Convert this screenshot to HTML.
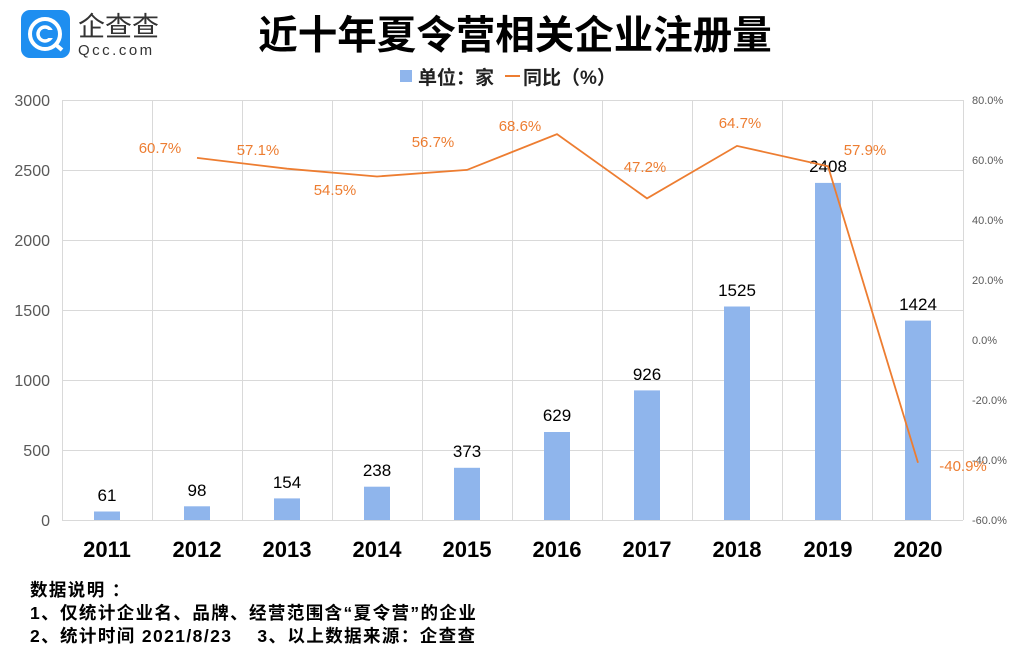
<!DOCTYPE html>
<html><head><meta charset="utf-8"><style>
body{margin:0;background:#fff}
svg text{font-family:"Liberation Sans","Noto Sans CJK SC",sans-serif}
</style></head><body>
<svg width="1021" height="655" viewBox="0 0 1021 655" xmlns="http://www.w3.org/2000/svg">
<rect width="1021" height="655" fill="#fff"/>
<rect x="21" y="10" width="49" height="48" rx="9" fill="#1E8EF0"/>
<circle cx="45" cy="34" r="15" fill="none" stroke="#fff" stroke-width="4"/>
<circle cx="45" cy="34" r="7" fill="none" stroke="#fff" stroke-width="3.5"/>
<rect x="47" y="30" width="8" height="8" fill="#1E8EF0"/>
<line x1="55" y1="44" x2="62" y2="50" stroke="#fff" stroke-width="4"/>
<text x="78" y="36" font-size="27" fill="#333">企查查</text>
<text x="78" y="55" font-size="15" fill="#333" letter-spacing="2.5">Qcc.com</text>
<text x="515" y="49" font-size="39.5" font-weight="bold" text-anchor="middle" fill="#000">近十年夏令营相关企业注册量</text>
<rect x="400" y="70" width="12" height="12" fill="#8FB5EC"/>
<text x="418" y="84" font-size="19" font-weight="bold" fill="#222">单位：家</text>
<line x1="505" y1="76" x2="520" y2="76" stroke="#ED7D31" stroke-width="2"/>
<text x="523" y="84" font-size="19" font-weight="bold" fill="#222">同比（%）</text>
<g stroke="#D9D9D9" stroke-width="1">
<line x1="62" y1="100.5" x2="963" y2="100.5"/>
<line x1="62" y1="170.5" x2="963" y2="170.5"/>
<line x1="62" y1="240.5" x2="963" y2="240.5"/>
<line x1="62" y1="310.5" x2="963" y2="310.5"/>
<line x1="62" y1="380.5" x2="963" y2="380.5"/>
<line x1="62" y1="450.5" x2="963" y2="450.5"/>
<line x1="62" y1="520.5" x2="963" y2="520.5"/>
<line x1="62.5" y1="100" x2="62.5" y2="520"/>
<line x1="152.5" y1="100" x2="152.5" y2="520"/>
<line x1="242.5" y1="100" x2="242.5" y2="520"/>
<line x1="332.5" y1="100" x2="332.5" y2="520"/>
<line x1="422.5" y1="100" x2="422.5" y2="520"/>
<line x1="512.5" y1="100" x2="512.5" y2="520"/>
<line x1="602.5" y1="100" x2="602.5" y2="520"/>
<line x1="692.5" y1="100" x2="692.5" y2="520"/>
<line x1="782.5" y1="100" x2="782.5" y2="520"/>
<line x1="872.5" y1="100" x2="872.5" y2="520"/>
<line x1="963.5" y1="100" x2="963.5" y2="520"/>
</g>
<g font-size="16" fill="#595959" text-anchor="end">
<text x="50" y="106">3000</text><text x="50" y="176">2500</text><text x="50" y="246">2000</text>
<text x="50" y="316">1500</text><text x="50" y="386">1000</text><text x="50" y="456">500</text><text x="50" y="526">0</text>
</g>
<g font-size="11" fill="#595959">
<text x="972" y="104">80.0%</text><text x="972" y="164">60.0%</text><text x="972" y="224">40.0%</text>
<text x="972" y="284">20.0%</text><text x="972" y="344">0.0%</text><text x="972" y="404">-20.0%</text>
<text x="972" y="464">-40.0%</text><text x="972" y="524">-60.0%</text>
</g>
<g fill="#8FB5EC">
<rect x="94" y="511.5" width="26" height="8.5"/>
<rect x="184" y="506.3" width="26" height="13.7"/>
<rect x="274" y="498.4" width="26" height="21.6"/>
<rect x="364" y="486.7" width="26" height="33.3"/>
<rect x="454" y="467.8" width="26" height="52.2"/>
<rect x="544" y="432" width="26" height="88"/>
<rect x="634" y="390.4" width="26" height="129.6"/>
<rect x="724" y="306.5" width="26" height="213.5"/>
<rect x="815" y="182.9" width="26" height="337.1"/>
<rect x="905" y="320.6" width="26" height="199.4"/>
</g>
<g font-size="17" fill="#000" text-anchor="middle">
<text x="107" y="501">61</text><text x="197" y="496">98</text><text x="287" y="488">154</text>
<text x="377" y="476">238</text><text x="467" y="457">373</text><text x="557" y="421">629</text>
<text x="647" y="380">926</text><text x="737" y="296">1525</text><text x="828" y="172">2408</text>
<text x="918" y="310">1424</text>
</g>
<polyline fill="none" stroke="#ED7D31" stroke-width="1.8" points="197,157.9 287,168.7 377,176.5 467,169.9 557,134.2 647,198.4 737,145.9 828,166.3 918,462.7"/>
<g font-size="15" fill="#ED7D31" text-anchor="middle">
<text x="160" y="153">60.7%</text><text x="258" y="155">57.1%</text><text x="335" y="195">54.5%</text>
<text x="433" y="147">56.7%</text><text x="520" y="131">68.6%</text><text x="645" y="172">47.2%</text>
<text x="740" y="128">64.7%</text><text x="865" y="155">57.9%</text><text x="963" y="471">-40.9%</text>
</g>
<g font-size="22" font-weight="bold" fill="#000" text-anchor="middle">
<text x="107" y="557">2011</text><text x="197" y="557">2012</text><text x="287" y="557">2013</text>
<text x="377" y="557">2014</text><text x="467" y="557">2015</text><text x="557" y="557">2016</text>
<text x="647" y="557">2017</text><text x="737" y="557">2018</text><text x="828" y="557">2019</text>
<text x="918" y="557">2020</text>
</g>
<g font-size="17.5" font-weight="bold" fill="#000" letter-spacing="1.4">
<text x="30" y="596">数据说明 ：</text>
<text x="30" y="619">1、仅统计企业名、品牌、经营范围含“夏令营”的企业</text>
<text x="30" y="642">2、统计时间 2021/8/23 &#160;&#160;&#160;3、以上数据来源：企查查</text>
</g>
</svg>
</body></html>
